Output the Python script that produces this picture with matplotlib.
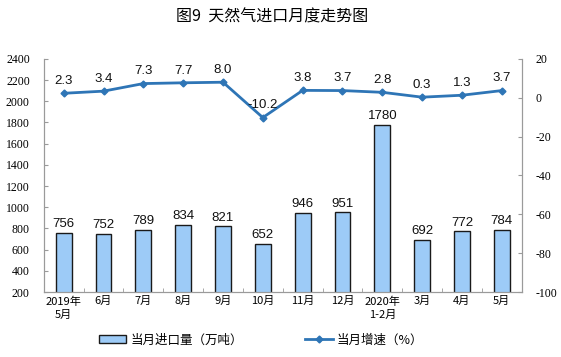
import numpy as np
import matplotlib
matplotlib.use("Agg")
import matplotlib.pyplot as plt
from matplotlib.lines import Line2D
from matplotlib.patches import Patch

plt.rcParams['font.family'] = ['Noto Sans CJK SC', 'DejaVu Sans']
plt.rcParams['axes.unicode_minus'] = False

# data
months = ["2019年\n5月", "6月", "7月", "8月", "9月", "10月", "11月", "12月",
          "2020年\n1-2月", "3月", "4月", "5月"]
imports = [756, 752, 789, 834, 821, 652, 946, 951, 1780, 692, 772, 784]
growth = [2.3, 3.4, 7.3, 7.7, 8.0, -10.2, 3.8, 3.7, 2.8, 0.3, 1.3, 3.7]

BAR_FILL = "#9DCBF7"
LINE_C = "#2E75B6"
SPINE_C = "#9a9a9a"

fig = plt.figure(figsize=(5.61, 3.57), dpi=100)
ax = fig.add_axes([0.078, 0.182, 0.852, 0.653])
ax2 = ax.twinx()

x = np.arange(len(months))
bars = ax.bar(x, imports, width=0.4, bottom=0, color=BAR_FILL,
              edgecolor="#1a1a1a", linewidth=1.0, zorder=2)
ax.set_ylim(200, 2400)
ax.set_xlim(-0.5, len(months) - 0.5)
ax.set_yticks(range(200, 2401, 200))
for xi, v in zip(x, imports):
    ax.text(xi, v + 25, str(v), ha="center", va="bottom",
            family="Liberation Sans", fontsize=9.5, color="#111111")

ax2.plot(x, growth, color=LINE_C, linewidth=2, marker="D", markersize=3.5,
         zorder=3)
ax2.set_ylim(-100, 20)
ax2.set_yticks(range(-100, 21, 20))
for xi, v in zip(x, growth):
    ax2.text(xi, v + 3.2, f"{v:.1f}", ha="center", va="bottom",
             family="Liberation Sans", fontsize=9.5, color="#111111")

ax.set_xticks(x)
ax.set_xticklabels(months, fontsize=8, linespacing=1.4)
ax.set_xticks(np.arange(-0.5, len(months), 1), minor=True)
ax.tick_params(axis="x", which="major", length=0, pad=3)
ax.tick_params(axis="x", which="minor", length=3, direction="in", color=SPINE_C)
for a in (ax, ax2):
    a.tick_params(axis="y", length=3, direction="in", color=SPINE_C, pad=10,
                  labelsize=8.5, labelfontfamily="Liberation Serif")
    a.spines["top"].set_visible(False)
    for s in ("left", "right", "bottom"):
        a.spines[s].set_color(SPINE_C)
        a.spines[s].set_linewidth(0.8)
ax.spines["bottom"].set_linestyle((0, (1, 1)))

fig.suptitle("图9  天然气进口月度走势图", x=0.485, y=0.975, fontsize=11.5,
             fontweight="medium")

handles = [Patch(facecolor=BAR_FILL, edgecolor="#1a1a1a", linewidth=1.0),
           Line2D([0], [0], color=LINE_C, linewidth=2, marker="D", markersize=3.5)]
fig.legend(handles, ["当月进口量（万吨）", "当月增速（%）"], loc="center",
           bbox_to_anchor=(0.465, 0.048), ncol=2, frameon=False, fontsize=9,
           handlelength=2.2, handletextpad=0.3, columnspacing=5)

fig.savefig("out.png", dpi=100)
